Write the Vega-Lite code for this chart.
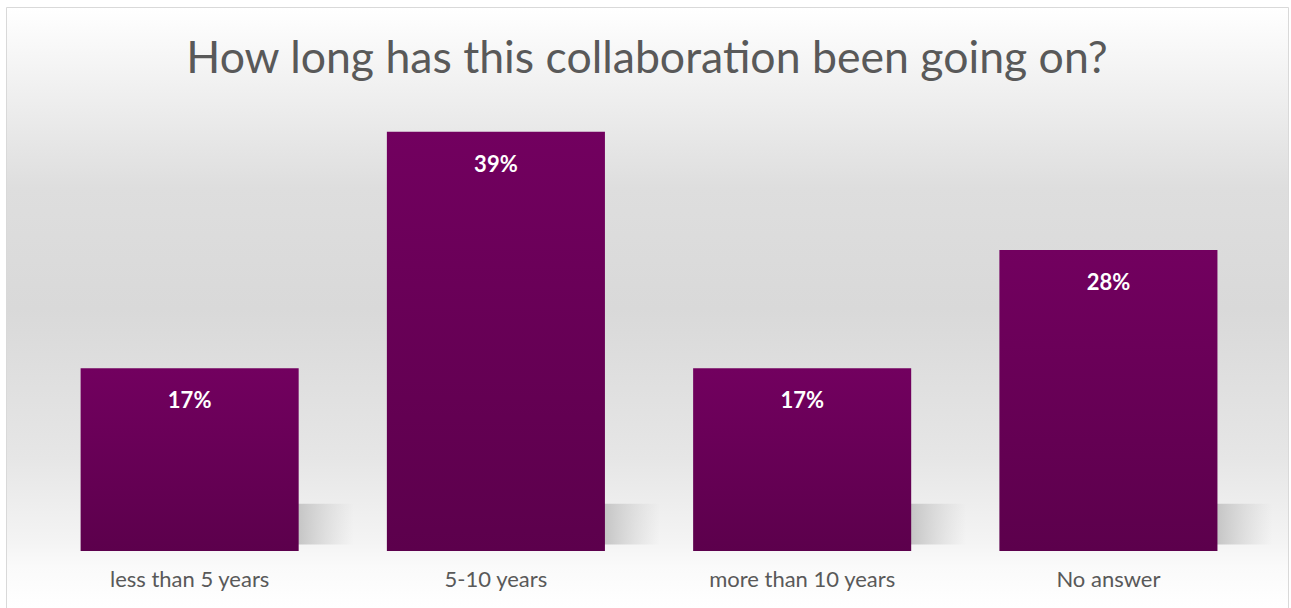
{
  "$schema": "https://vega.github.io/schema/vega-lite/v6.json",
  "width": 1282,
  "height": 601,
  "padding": {"left": 6, "top": 7, "right": 3, "bottom": 0},
  "autosize": {"type": "none"},
  "background": "#ffffff",
  "title": {
    "text": "How long has this collaboration been going on?",
    "font": "Lato",
    "fontSize": 44.6,
    "fontWeight": "normal",
    "color": "#595959",
    "anchor": "middle",
    "baseline": "middle",
    "offset": -98
  },
  "config": {
    "view": {
      "stroke": "#d9d9d9",
      "strokeWidth": 1,
      "fill": {
        "gradient": "linear",
        "x1": 0, "y1": 0, "x2": 0, "y2": 1,
        "stops": [
          {"offset": 0, "color": "#ffffff"},
          {"offset": 0.3, "color": "#dedede"},
          {"offset": 0.5, "color": "#d9d9d9"},
          {"offset": 0.75, "color": "#e6e6e6"},
          {"offset": 0.89, "color": "#f4f4f4"},
          {"offset": 0.93, "color": "#fafafa"},
          {"offset": 1, "color": "#ffffff"}
        ]
      }
    }
  },
  "data": {
    "values": [
      {"category": "less than 5 years", "value": 0.17},
      {"category": "5-10 years", "value": 0.39},
      {"category": "more than 10 years", "value": 0.17},
      {"category": "No answer", "value": 0.28}
    ]
  },
  "encoding": {
    "x": {
      "field": "category",
      "type": "nominal",
      "sort": null,
      "scale": {"paddingInner": 0.288, "paddingOuter": 0.237, "align": 0.514},
      "axis": {
        "title": null,
        "domain": false,
        "ticks": false,
        "labelAngle": 0,
        "labelLimit": 0,
        "offset": -57,
        "labelPadding": 18,
        "labelFont": "Lato",
        "labelFontSize": 22,
        "labelColor": "#595959"
      }
    }
  },
  "layer": [
    {
      "mark": {
        "type": "bar",
        "xOffset": 55,
        "fill": {
          "gradient": "linear",
          "x1": 0, "y1": 0, "x2": 1, "y2": 0,
          "stops": [
            {"offset": 0, "color": "#c4c4c4"},
            {"offset": 0.75, "color": "#c6c6c6"},
            {"offset": 1, "color": "rgba(210,210,210,0)"}
          ]
        }
      },
      "encoding": {
        "y": {
          "datum": 0.044,
          "type": "quantitative",
          "scale": {"domain": [-0.053, 0.506], "nice": false, "zero": false},
          "axis": null
        },
        "y2": {"datum": 0.006}
      }
    },
    {
      "mark": {
        "type": "bar",
        "fill": {
          "gradient": "linear",
          "x1": 0, "y1": 0, "x2": 0, "y2": 1,
          "stops": [
            {"offset": 0, "color": "#72005f"},
            {"offset": 1, "color": "#5c004c"}
          ]
        }
      },
      "encoding": {
        "y": {
          "field": "value",
          "type": "quantitative",
          "scale": {"domain": [-0.053, 0.506], "nice": false, "zero": false},
          "axis": null
        },
        "y2": {"datum": 0}
      }
    },
    {
      "mark": {
        "type": "text",
        "color": "#ffffff",
        "font": "Lato",
        "fontSize": 22,
        "fontWeight": "bold",
        "baseline": "middle",
        "dy": 33
      },
      "encoding": {
        "y": {
          "field": "value",
          "type": "quantitative",
          "scale": {"domain": [-0.053, 0.506], "nice": false, "zero": false},
          "axis": null
        },
        "text": {"field": "value", "type": "quantitative", "format": ".0%"}
      }
    }
  ]
}
